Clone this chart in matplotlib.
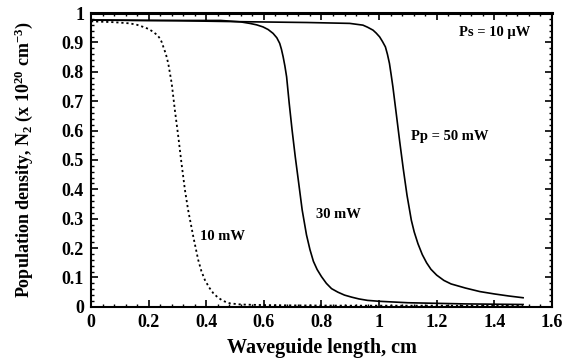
import matplotlib.pyplot as plt
from matplotlib.ticker import MultipleLocator, FuncFormatter

# curvas (longitud en cm, N2 en 1e20 cm^-3)
x_10 = [0, 0.08, 0.135, 0.16, 0.181, 0.2, 0.216, 0.23, 0.239, 0.246, 0.251, 0.26, 0.268, 0.28, 0.291,
        0.303, 0.314, 0.326, 0.337, 0.355, 0.372, 0.383, 0.395, 0.41, 0.424, 0.44, 0.459, 0.482, 0.52,
        0.6, 0.7, 0.9, 1.2, 1.5]
n_10 = [0.972, 0.969, 0.965, 0.96, 0.953, 0.946, 0.936, 0.925, 0.914, 0.9, 0.885, 0.86, 0.829, 0.761, 0.67,
        0.579, 0.489, 0.398, 0.33, 0.239, 0.16, 0.122, 0.092, 0.066, 0.047, 0.032, 0.02, 0.012, 0.008,
        0.006, 0.005, 0.004, 0.004, 0.003]

x_30 = [0, 0.2, 0.45, 0.52, 0.551, 0.575, 0.597, 0.615, 0.632, 0.645, 0.655, 0.661, 0.667, 0.673, 0.679,
        0.688, 0.698, 0.709, 0.721, 0.733, 0.748, 0.76, 0.772, 0.785, 0.80, 0.817, 0.835, 0.857, 0.88,
        0.905, 0.93, 0.96, 1.0, 1.1, 1.3, 1.5]
n_30 = [0.976, 0.975, 0.975, 0.97, 0.965, 0.96, 0.953, 0.944, 0.931, 0.916, 0.897, 0.877, 0.851, 0.82, 0.783,
        0.693, 0.602, 0.511, 0.421, 0.33, 0.245, 0.195, 0.155, 0.127, 0.103, 0.08, 0.062, 0.05, 0.04,
        0.033, 0.027, 0.022, 0.019, 0.014, 0.01, 0.008]

x_50 = [0, 0.3, 0.5, 0.75, 0.898, 0.944, 0.96, 0.979, 0.99, 1.002, 1.012, 1.022, 1.029, 1.036, 1.042,
        1.048, 1.06, 1.072, 1.084, 1.097, 1.112, 1.122, 1.135, 1.15, 1.165, 1.18, 1.2, 1.225, 1.25,
        1.3, 1.35, 1.4, 1.45, 1.5]
n_50 = [0.977, 0.974, 0.971, 0.968, 0.965, 0.959, 0.952, 0.942, 0.932, 0.919, 0.903, 0.885, 0.86, 0.829, 0.79,
        0.749, 0.655, 0.56, 0.47, 0.38, 0.295, 0.255, 0.215, 0.178, 0.15, 0.128, 0.108, 0.09, 0.078,
        0.064, 0.052, 0.044, 0.037, 0.031]

plt.rcParams['font.family'] = ['Liberation Serif', 'DejaVu Serif']
plt.rcParams['font.weight'] = 'bold'
plt.rcParams['axes.labelweight'] = 'bold'
plt.rcParams['mathtext.fontset'] = 'custom'
plt.rcParams['mathtext.rm'] = 'Liberation Serif:bold'
plt.rcParams['mathtext.it'] = 'Liberation Serif:italic:bold'
plt.rcParams['mathtext.default'] = 'rm'

fig = plt.figure(figsize=(5.62, 3.64), dpi=100)
ax = fig.add_axes([0.162, 0.157, 0.82, 0.807])

ax.plot(x_10, n_10, color='black', linestyle=(0, (1.2, 1.6)), linewidth=1.3)
ax.plot(x_30, n_30, color='black', linewidth=1.2)
ax.plot(x_50, n_50, color='black', linewidth=1.2)

ax.text(1.40, 0.935, 'Ps = 10 \u03bcW', fontsize=10.5, ha='center', va='center')
ax.text(1.112, 0.58, 'Pp = 50 mW', fontsize=10.5, ha='left', va='center')
ax.text(0.78, 0.316, '30 mW', fontsize=10.5, ha='left', va='center')
ax.text(0.378, 0.239, '10 mW', fontsize=10.5, ha='left', va='center')

ax.set_xlim(0, 1.6)
ax.set_ylim(0, 1)
ax.xaxis.set_major_locator(MultipleLocator(0.2))
ax.xaxis.set_minor_locator(MultipleLocator(0.04))
ax.yaxis.set_major_locator(MultipleLocator(0.1))
ax.yaxis.set_minor_locator(MultipleLocator(0.02))
fmt = FuncFormatter(lambda v, p: ('%.1f' % v).rstrip('0').rstrip('.') if abs(v) > 1e-9 else '0')
ax.xaxis.set_major_formatter(fmt)
ax.yaxis.set_major_formatter(fmt)
ax.tick_params(which='both', direction='in', top=True, right=True, labelsize=13, colors='black')
ax.tick_params(which='major', length=5, width=1.2, pad=5)
ax.tick_params(which='minor', length=2.5, width=1.0)
for s in ax.spines.values():
    s.set_linewidth(1.5)
ax.spines['top'].set_linewidth(2.2)

ax.set_xlabel('Waveguide length, cm', fontsize=14.5, labelpad=5)
ax.set_ylabel('Population density, N$_2$ (x 10$^{20}$ cm$^{-3}$)', fontsize=13, labelpad=19)

fig.savefig('out.png', dpi=100)
